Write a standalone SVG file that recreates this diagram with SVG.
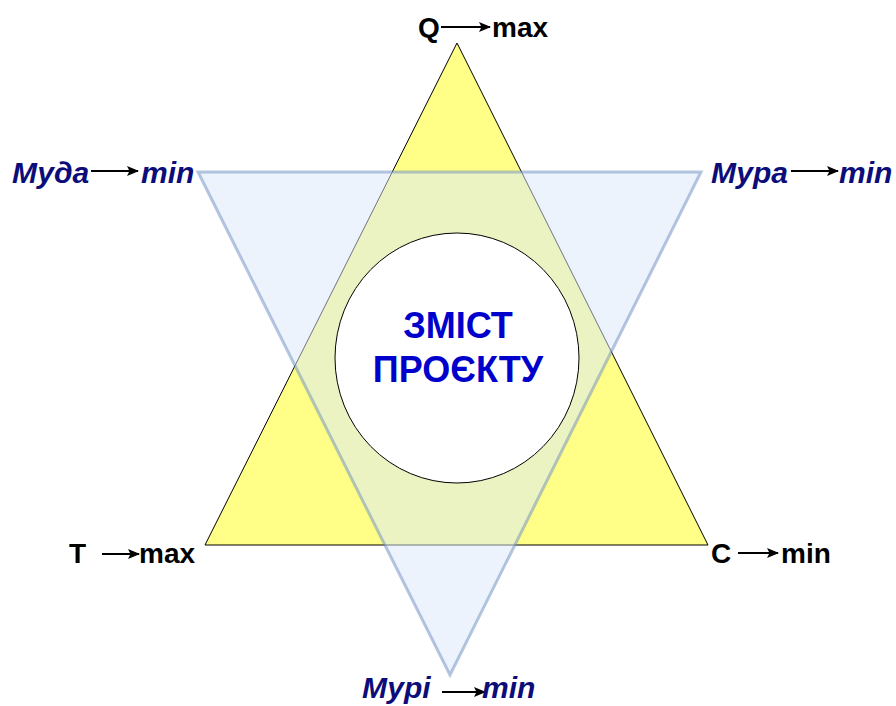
<svg xmlns="http://www.w3.org/2000/svg" width="896" height="706" viewBox="0 0 896 706">
<style>
.lbl{font-family:"Liberation Sans",Arial,sans-serif;font-weight:bold;font-size:28px;fill:#000}
.ital{font-family:"Liberation Sans",Arial,sans-serif;font-weight:bold;font-style:italic;font-size:30px;fill:#0d0d7a}
.title{font-family:"Liberation Sans",Arial,sans-serif;font-weight:bold;font-size:36px;fill:#0000cc}
.arrow{stroke:#000;stroke-width:2;fill:none}
</style>
<defs>
<marker id="head" viewBox="0 0 12 10" refX="11" refY="5" markerWidth="12" markerHeight="10" markerUnits="userSpaceOnUse" orient="auto">
<path d="M0,0 L12,5 L0,10 L2.5,5 Z" fill="#000"/>
</marker>
</defs>
<rect width="896" height="706" fill="#ffffff"/>
<g id="yellow-triangle">
<polygon points="457,43 205,545 708,545" fill="#ffff88" stroke="#000" stroke-width="1"/>
</g>
<g id="blue-triangle">
<polygon points="198,172 701,172 450,675" fill="#dae8fc" fill-opacity="0.5" stroke="#6c8ebf" stroke-opacity="0.5" stroke-width="3"/>
</g>
<g id="content">
<ellipse cx="457" cy="358" rx="122" ry="125" fill="#ffffff" stroke="#000" stroke-width="1"/>
<text class="title" text-anchor="middle"><tspan x="458" y="338">ЗМІСТ</tspan><tspan x="458" y="382">ПРОЄКТУ</tspan></text>
</g>
<g id="label-q">
<text class="lbl" x="418" y="37">Q</text>
<line class="arrow" x1="441" y1="27" x2="490" y2="27" marker-end="url(#head)"/>
<text class="lbl" x="492" y="37">max</text>
</g>
<g id="label-t">
<text class="lbl" x="69" y="563">T</text>
<line class="arrow" x1="102" y1="554" x2="139" y2="554" marker-end="url(#head)"/>
<text class="lbl" x="139" y="563">max</text>
</g>
<g id="label-c">
<text class="lbl" x="711" y="563">C</text>
<line class="arrow" x1="738" y1="553" x2="778" y2="553" marker-end="url(#head)"/>
<text class="lbl" x="781" y="563">min</text>
</g>
<g id="label-muda">
<text class="ital" x="12" y="183">Муда</text>
<line class="arrow" x1="91" y1="171" x2="138" y2="171" marker-end="url(#head)"/>
<text class="ital" x="141" y="183">min</text>
</g>
<g id="label-mura">
<text class="ital" x="711" y="183">Мура</text>
<line class="arrow" x1="791" y1="171" x2="838" y2="171" marker-end="url(#head)"/>
<text class="ital" x="839" y="183">min</text>
</g>
<g id="label-muri">
<text class="ital" x="362" y="698">Мурі</text>
<line class="arrow" x1="442" y1="692" x2="485" y2="692" marker-end="url(#head)"/>
<text class="ital" x="482" y="698">min</text>
</g>
</svg>
